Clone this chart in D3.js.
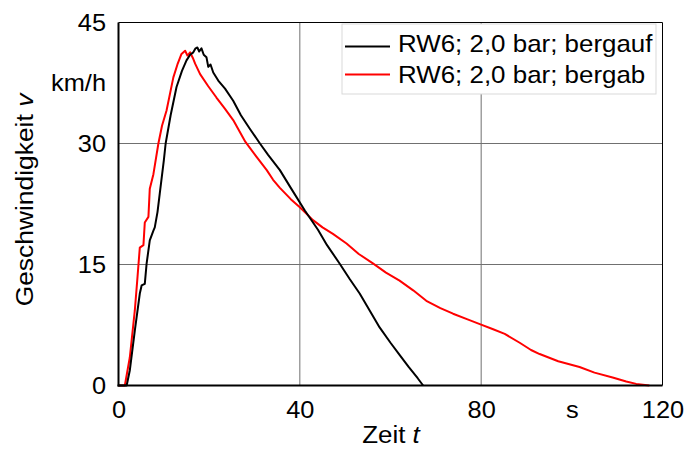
<!DOCTYPE html>
<html>
<head>
<meta charset="utf-8">
<script src="https://cdn.jsdelivr.net/npm/d3@7"></script>
<style>
  html, body { margin: 0; padding: 0; background: #fff; }
  svg { display: block; }
  text { font-family: "Liberation Sans", Arial, sans-serif; fill: #000; }
</style>
</head>
<body>
<svg id="chart" width="685" height="469"></svg>
<script>
// ---- data ----
const seriesNames = ["RW6; 2,0 bar; bergauf", "RW6; 2,0 bar; bergab"];
const seriesColors = ["#000000", "#ff0000"];

const bergaufT = [0, 1.4, 1.8, 2.5, 3.6, 4.7, 5.1, 5.8, 6.2, 6.9, 7.7, 8.0, 8.6, 9.1, 10.0, 10.4, 11.5, 12.8, 14.0, 15.0, 15.8, 16.5, 17.0, 17.4, 17.8, 18.3, 18.8, 19.4, 19.8, 20.3, 20.9, 22.0, 23.5, 25.3, 27.0, 29.0, 31.2, 33.0, 35.6, 38.0, 41.1, 44.0, 46.0, 48.8, 51.0, 53.2, 55.5, 57.6, 60.0, 62.0, 64.0, 66.0, 67.2];
const bergaufV = [0, 0, 0, 1.9, 6.8, 11.4, 12.4, 12.6, 15.1, 18.0, 19.2, 19.6, 21.5, 23.8, 27.9, 30.0, 33.5, 37.0, 39.0, 40.3, 41.0, 41.3, 41.8, 41.9, 41.4, 41.8, 41.0, 40.7, 39.5, 39.8, 38.8, 37.8, 36.8, 35.3, 33.5, 31.8, 30.0, 28.6, 26.7, 24.5, 21.7, 19.3, 17.4, 15.1, 13.2, 11.4, 9.2, 7.2, 5.3, 3.8, 2.3, 0.9, 0];

const bergabT = [0, 1.4, 2.5, 3.6, 4.2, 4.7, 5.5, 5.8, 6.6, 6.9, 7.7, 8.8, 9.6, 10.6, 12.1, 13.0, 13.9, 14.7, 15.2, 15.8, 16.4, 16.9, 18.0, 19.8, 21.6, 23.5, 25.3, 28.0, 30.5, 32.7, 34.1, 35.6, 38.0, 40.0, 42.9, 45.0, 47.3, 50.3, 53.0, 56.2, 59.0, 62.0, 65.0, 67.9, 71.0, 73.8, 77.0, 79.7, 82.5, 85.2, 88.5, 91.0, 92.9, 97.0, 101.7, 105.0, 109.0, 112.0, 114.2, 117.1];
const bergabV = [0, 0, 3.5, 9.3, 13.5, 17.1, 17.4, 20.2, 20.9, 24.4, 26.2, 30.0, 32.2, 34.1, 38.2, 39.8, 41.1, 41.5, 40.9, 41.3, 40.6, 39.9, 38.6, 37.1, 35.7, 34.3, 32.9, 30.2, 28.3, 26.7, 25.5, 24.5, 23.1, 22.1, 20.5, 19.6, 18.8, 17.6, 16.3, 15.1, 14.0, 13.0, 11.8, 10.5, 9.6, 8.9, 8.2, 7.6, 7.0, 6.4, 5.3, 4.4, 3.9, 3.0, 2.3, 1.6, 1.0, 0.5, 0.2, 0];

const xTicks = [0, 40, 80, 100, 120];   // 100 carries the unit label
const xTickLabels = ["0", "40", "80", "s", "120"];
const yTicks = [0, 15, 30, 37.5, 45];   // 37.5 carries the unit label
const yTickLabels = ["0", "15", "30", "km/h", "45"];
const xGrid = [40, 80];
const yGrid = [15, 30];
const xTitle = "Zeit ";
const xTitleVar = "t";
const yTitle = "Geschwindigkeit ";
const yTitleVar = "v";

// ---- layout ----
const svg = d3.select("#chart");
const L = 118.5, R = 662.5, T = 22.5, B = 385.5;
const SX = 1.08; // horizontal glyph stretch of the reference text
const x = d3.scaleLinear().domain([0, 120]).range([L, R]);
const y = d3.scaleLinear().domain([0, 45]).range([B, T]);

// grid
svg.append("g").selectAll("line").data(xGrid).join("line")
  .attr("x1", d => x(d)).attr("x2", d => x(d))
  .attr("y1", T).attr("y2", B)
  .attr("stroke", "#707070").attr("stroke-width", 1);
svg.append("g").selectAll("line").data(yGrid).join("line")
  .attr("x1", L).attr("x2", R)
  .attr("y1", d => y(d)).attr("y2", d => y(d))
  .attr("stroke", "#707070").attr("stroke-width", 1);

// frame top / right
svg.append("path")
  .attr("d", `M${L},${T}H${R}V${B}`)
  .attr("fill", "none").attr("stroke", "#000").attr("stroke-width", 1);

// series
const line = d3.line().x(d => x(d[0])).y(d => y(d[1]));
const seriesData = [
  d3.zip(bergaufT, bergaufV),
  d3.zip(bergabT, bergabV)
];
svg.append("path").datum(seriesData[1]).attr("d", line)
  .attr("fill", "none").attr("stroke", seriesColors[1]).attr("stroke-width", 2).attr("stroke-linejoin", "round");
svg.append("path").datum(seriesData[0]).attr("d", line)
  .attr("fill", "none").attr("stroke", seriesColors[0]).attr("stroke-width", 2).attr("stroke-linejoin", "round");

// axes
const xAxis = d3.axisBottom(x).tickValues(xTicks)
  .tickFormat((d, i) => xTickLabels[i]).tickSize(0).tickPadding(15.5);
const gx = svg.append("g").attr("transform", `translate(0,${B})`).call(xAxis);
gx.select(".domain").attr("stroke", "#000").attr("stroke-width", 2).attr("d", `M${L - 1},0H${R}`);
gx.selectAll("text").style("font-size", "23.5px").style("font-family", "Liberation Sans, Arial, sans-serif")
  .attr("transform", `scale(${SX},1)`);

const yAxis = d3.axisLeft(y).tickValues(yTicks)
  .tickFormat((d, i) => yTickLabels[i]).tickSize(0).tickPadding(12.5);
const gy = svg.append("g").attr("transform", `translate(${L},0)`).call(yAxis);
gy.select(".domain").attr("stroke", "#000").attr("stroke-width", 2).attr("d", `M0,${T}V${B + 1}`);
gy.selectAll("text").style("font-size", "23.5px").style("font-family", "Liberation Sans, Arial, sans-serif")
  .attr("x", -12.5 / SX).attr("transform", `scale(${SX},1)`);

// axis titles
const xt = svg.append("text").attr("transform", `translate(391,443) scale(${SX},1)`)
  .attr("text-anchor", "middle").style("font-size", "24px");
xt.append("tspan").text(xTitle);
xt.append("tspan").style("font-style", "italic").text(xTitleVar);

const yt = svg.append("text")
  .attr("transform", "translate(33,200) rotate(-90) scale(1.1,1)")
  .attr("text-anchor", "middle").style("font-size", "24px");
yt.append("tspan").text(yTitle);
yt.append("tspan").style("font-style", "italic").text(yTitleVar);

// legend
const lg = svg.append("g");
lg.append("rect").attr("x", 342).attr("y", 24).attr("width", 314).attr("height", 70)
  .attr("fill", "#fff").attr("stroke", "#d9d9d9").attr("stroke-width", 1);
const legY = [46.5, 74.5];
const legBase = [52.3, 82.5];
seriesNames.forEach((name, i) => {
  lg.append("line").attr("x1", 345).attr("x2", 390).attr("y1", legY[i]).attr("y2", legY[i])
    .attr("stroke", seriesColors[i]).attr("stroke-width", 2);
  lg.append("text").attr("transform", `translate(398,${legBase[i]}) scale(${SX},1)`)
    .style("font-size", "24px").text(name);
});
</script>
</body>
</html>
